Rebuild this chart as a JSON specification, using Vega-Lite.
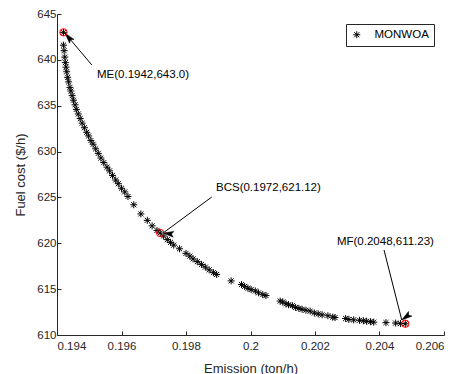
{
  "$schema": "https://vega.github.io/schema/vega-lite/v6.json",
  "width": 387,
  "height": 321,
  "autosize": {"type": "none"},
  "padding": {"left": 57, "top": 14, "right": 16, "bottom": 39},
  "background": "white",
  "config": {
    "view": {"stroke": null},
    "font": "Liberation Sans",
    "axis": {
      "grid": false,
      "domainColor": "#262626",
      "tickColor": "#262626",
      "labelColor": "#262626",
      "titleColor": "#262626",
      "labelFontSize": 11.5,
      "titleFontSize": 13,
      "titleFontWeight": "normal",
      "tickSize": -4
    }
  },
  "datasets": {
    "front": [
      {"emission": 0.1942, "cost": 643.0},
      {"emission": 0.19420, "cost": 641.6},
      {"emission": 0.19422, "cost": 641.0},
      {"emission": 0.19424, "cost": 640.3},
      {"emission": 0.19426, "cost": 639.7},
      {"emission": 0.19428, "cost": 639.2},
      {"emission": 0.19430, "cost": 638.7},
      {"emission": 0.19433, "cost": 638.1},
      {"emission": 0.19436, "cost": 637.6},
      {"emission": 0.19440, "cost": 637.0},
      {"emission": 0.19443, "cost": 636.6},
      {"emission": 0.19447, "cost": 636.1},
      {"emission": 0.19451, "cost": 635.6},
      {"emission": 0.19456, "cost": 635.1},
      {"emission": 0.19460, "cost": 634.6},
      {"emission": 0.19466, "cost": 634.1},
      {"emission": 0.19472, "cost": 633.6},
      {"emission": 0.19478, "cost": 633.1},
      {"emission": 0.19485, "cost": 632.6},
      {"emission": 0.19492, "cost": 632.1},
      {"emission": 0.19498, "cost": 631.7},
      {"emission": 0.19505, "cost": 631.2},
      {"emission": 0.19512, "cost": 630.8},
      {"emission": 0.19520, "cost": 630.3},
      {"emission": 0.19528, "cost": 629.8},
      {"emission": 0.19536, "cost": 629.3},
      {"emission": 0.19545, "cost": 628.8},
      {"emission": 0.19555, "cost": 628.3},
      {"emission": 0.19563, "cost": 627.9},
      {"emission": 0.19572, "cost": 627.4},
      {"emission": 0.19582, "cost": 626.9},
      {"emission": 0.19590, "cost": 626.5},
      {"emission": 0.19600, "cost": 626.0},
      {"emission": 0.19610, "cost": 625.6},
      {"emission": 0.19620, "cost": 625.1},
      {"emission": 0.19638, "cost": 624.2},
      {"emission": 0.19660, "cost": 623.2},
      {"emission": 0.19680, "cost": 622.5},
      {"emission": 0.19695, "cost": 621.9},
      {"emission": 0.19710, "cost": 621.4},
      {"emission": 0.19720, "cost": 621.12},
      {"emission": 0.19730, "cost": 620.8},
      {"emission": 0.19742, "cost": 620.4},
      {"emission": 0.19752, "cost": 620.1},
      {"emission": 0.19762, "cost": 619.8},
      {"emission": 0.19780, "cost": 619.4},
      {"emission": 0.19800, "cost": 618.9},
      {"emission": 0.19812, "cost": 618.6},
      {"emission": 0.19822, "cost": 618.3},
      {"emission": 0.19835, "cost": 618.0},
      {"emission": 0.19848, "cost": 617.7},
      {"emission": 0.19860, "cost": 617.4},
      {"emission": 0.19872, "cost": 617.1},
      {"emission": 0.19885, "cost": 616.8},
      {"emission": 0.19895, "cost": 616.6},
      {"emission": 0.19940, "cost": 615.9},
      {"emission": 0.19972, "cost": 615.5},
      {"emission": 0.19982, "cost": 615.3},
      {"emission": 0.19992, "cost": 615.1},
      {"emission": 0.20002, "cost": 614.95},
      {"emission": 0.20015, "cost": 614.8},
      {"emission": 0.20025, "cost": 614.6},
      {"emission": 0.20038, "cost": 614.4},
      {"emission": 0.20048, "cost": 614.3},
      {"emission": 0.20092, "cost": 613.7},
      {"emission": 0.20100, "cost": 613.6},
      {"emission": 0.20110, "cost": 613.4},
      {"emission": 0.20118, "cost": 613.3},
      {"emission": 0.20130, "cost": 613.2},
      {"emission": 0.20140, "cost": 613.0},
      {"emission": 0.20150, "cost": 612.9},
      {"emission": 0.20160, "cost": 612.8},
      {"emission": 0.20172, "cost": 612.7},
      {"emission": 0.20185, "cost": 612.6},
      {"emission": 0.20198, "cost": 612.4},
      {"emission": 0.20210, "cost": 612.3},
      {"emission": 0.20222, "cost": 612.2},
      {"emission": 0.20240, "cost": 612.1},
      {"emission": 0.20255, "cost": 611.95},
      {"emission": 0.20262, "cost": 611.9},
      {"emission": 0.20295, "cost": 611.8},
      {"emission": 0.20305, "cost": 611.7},
      {"emission": 0.20320, "cost": 611.65},
      {"emission": 0.20338, "cost": 611.6},
      {"emission": 0.20350, "cost": 611.55},
      {"emission": 0.20360, "cost": 611.5},
      {"emission": 0.20372, "cost": 611.45},
      {"emission": 0.20382, "cost": 611.4},
      {"emission": 0.20420, "cost": 611.35},
      {"emission": 0.20450, "cost": 611.3},
      {"emission": 0.20465, "cost": 611.25},
      {"emission": 0.2048, "cost": 611.23}
    ],
    "marks": [
      {"name": "ME", "emission": 0.1942, "cost": 643.0, "label": "ME(0.1942,643.0)", "tx": 0.19508, "ty": 639.44, "hx": 0.19425, "hy": 642.9, "lx": 0.19524, "ly": 638.35},
      {"name": "BCS", "emission": 0.1972, "cost": 621.12, "label": "BCS(0.1972,621.12)", "tx": 0.19880, "ty": 625.05, "hx": 0.19729, "hy": 621.12, "lx": 0.19893, "ly": 626.03},
      {"name": "MF", "emission": 0.2048, "cost": 611.23, "label": "MF(0.2048,611.23)", "tx": 0.20414, "ty": 619.27, "hx": 0.20469, "hy": 611.64, "lx": 0.20268, "ly": 620.14}
    ]
  },
  "layer": [
    {
      "data": {"name": "front"},
      "mark": {"type": "point", "filled": false, "stroke": "black", "strokeWidth": 1, "opacity": 1},
      "encoding": {
        "x": {"field": "emission", "type": "quantitative", "title": "Emission (ton/h)",
              "scale": {"domain": [0.194, 0.206], "nice": false, "zero": false},
              "axis": {"values": [0.194, 0.196, 0.198, 0.2, 0.202, 0.204, 0.206], "format": ".3~f", "labelPadding": 9, "titleY": 33, "titleBaseline": "middle"}},
        "y": {"field": "cost", "type": "quantitative", "title": "Fuel cost ($/h)",
              "scale": {"domain": [610, 645], "nice": false, "zero": false},
              "axis": {"values": [610, 615, 620, 625, 630, 635, 640, 645], "labelPadding": 5, "titleX": -37, "titleBaseline": "middle"}},
        "shape": {"datum": "MONWOA", "type": "nominal",
                  "scale": {"range": ["M-1,0L1,0M0,-1L0,1M-0.72,-0.72L0.72,0.72M-0.72,0.72L0.72,-0.72"]},
                  "legend": {"title": null, "orient": "none", "legendX": 289, "legendY": 10,
                             "strokeColor": "#262626", "fillColor": "white", "padding": 5,
                             "symbolStrokeColor": "black", "symbolFillColor": "transparent", "symbolStrokeWidth": 1,
                             "symbolSize": 49, "labelFontSize": 11.5, "labelColor": "#000000", "labelOffset": 12, "cornerRadius": 0}},
        "size": {"value": 49}
      }
    },
    {
      "data": {"name": "marks"},
      "mark": {"type": "rule", "color": "black", "strokeWidth": 1},
      "encoding": {
        "x": {"field": "tx", "type": "quantitative"},
        "y": {"field": "ty", "type": "quantitative"},
        "x2": {"field": "hx"},
        "y2": {"field": "hy"}
      }
    },
    {
      "data": {"name": "marks"},
      "mark": {"type": "point", "filled": true, "fill": "black", "stroke": "black", "strokeWidth": 0.5, "opacity": 1,
               "shape": "M0,0L-0.55,2L0,1.6L0.55,2Z"},
      "encoding": {
        "x": {"field": "hx", "type": "quantitative"},
        "y": {"field": "hy", "type": "quantitative"},
        "angle": {"field": "name", "type": "nominal", "scale": {"domain": ["ME", "BCS", "MF"], "range": [320, 234, 166]}, "legend": null},
        "size": {"value": 110}
      }
    },
    {
      "data": {"name": "marks"},
      "mark": {"type": "point", "filled": false, "shape": "circle", "stroke": "#ff0000", "strokeWidth": 1, "opacity": 1},
      "encoding": {
        "x": {"field": "emission", "type": "quantitative"},
        "y": {"field": "cost", "type": "quantitative"},
        "size": {"value": 55}
      }
    },
    {
      "data": {"name": "marks"},
      "mark": {"type": "text", "align": "left", "baseline": "middle", "fontSize": 11.5, "color": "black"},
      "encoding": {
        "x": {"field": "lx", "type": "quantitative"},
        "y": {"field": "ly", "type": "quantitative"},
        "text": {"field": "label"}
      }
    }
  ]
}
